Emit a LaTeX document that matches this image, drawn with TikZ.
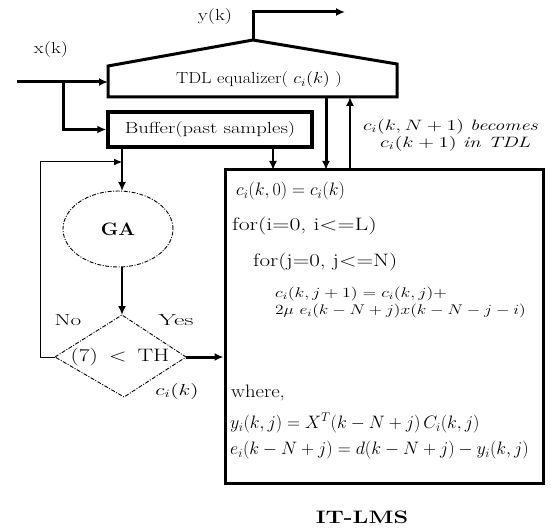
\RequirePackage{fix-cm}
\documentclass[tikz,border=0pt]{standalone}
\usepackage{fontspec}
\usepackage{graphicx}
\usetikzlibrary{arrows.meta,shapes.geometric,calc}
\newcommand{\hstr}[2]{\scalebox{#1}[1]{#2}}
\begin{document}
\begin{tikzpicture}[x=1pt,y=-1pt,
  thickline/.style={line width=3pt},
  medline/.style={line width=1.6pt},
  thinline/.style={line width=1pt},
  tip/.style={-{Latex[length=9pt,width=8pt]}},
  dashdot/.style={line width=0.9pt,dash pattern=on 4pt off 1.5pt on 1pt off 1.5pt},
  txt/.style={inner sep=0pt,font=\fontsize{16}{19}\selectfont},
  lmstxt/.style={inner sep=0pt,anchor=west,font=\fontsize{18}{21}\selectfont},
  lmssmall/.style={inner sep=0pt,anchor=west,font=\fontsize{14}{16}\selectfont},
]
\useasboundingbox (0,0) rectangle (551,529);
% TDL equalizer
\coordinate (tbl) at (108,97);
\coordinate (ttl) at (108,66);
\coordinate (peak) at (253,40);
\coordinate (ttr) at (397,64);
\coordinate (tbr) at (397,97);
\draw[thickline,line join=miter] (tbl) -- (ttl) -- (peak) -- (ttr) -- (tbr) -- cycle;
\node[txt] (tdltext) at (259,80) {\hstr{1.14}{TDL equalizer( $c_i(k)$ )}};
% buffer
\node[draw,line width=3.5pt,minimum width=204,minimum height=35,inner sep=0pt,
  font=\fontsize{16}{19}\selectfont] (buf) at (210,129.5) {\hstr{1.29}{Buffer(past samples)}};
% LMS box
\node[draw,line width=3pt,minimum width=318,minimum height=313,inner sep=0pt] (lms) at (384,326.5) {};
% GA
\node[ellipse,draw,dashdot,minimum width=110,minimum height=76,inner sep=0pt,
  font=\bfseries\fontsize{18}{20}\selectfont] (ga) at (118,229) {\hstr{1.1}{GA}};
% diamond
\coordinate (dl) at (55,357);
\coordinate (dt) at (122,315);
\coordinate (dr) at (186,357);
\coordinate (db) at (124,397);
\draw[dashdot] (dl) -- (dt) -- (dr) -- (db) -- cycle;
\node[inner sep=0pt,font=\fontsize{18}{20}\selectfont] (cond) at (120,357) {\hstr{1.3}{(7) \,$<$\, TH}};
% labels
\node[txt] (xk) at (51,50) {\hstr{1.27}{x(k)}};
\node[txt] (yk) at (215,17) {\hstr{1.27}{y(k)}};
\node[txt] (no) at (68,320) {\hstr{1.45}{No}};
\node[txt] (yes) at (176,320) {\hstr{1.6}{Yes}};
\node[txt] (ck) at (177,391) {\hstr{1.35}{$c_i(k)$}};
\node[inner sep=0pt,anchor=west,font=\fontsize{15}{18}\selectfont] (becomes) at (363,127) {\hstr{1.34}{$c_i(k,N+1)$ \textit{becomes}}};
\node[inner sep=0pt,anchor=west,font=\fontsize{15}{18}\selectfont] (intdl) at (380,144) {\hstr{1.38}{$c_i(k+1)$ \textit{in TDL}}};
\node[inner sep=0pt,font=\bfseries\fontsize{18}{20}\selectfont] (itlms) at (362,517) {\hstr{1.3}{IT-LMS}};
% LMS texts
\node[lmstxt] (l1) at (236,191) {$c_i(k,0) = c_i(k)$};
\node[lmstxt] (l2) at (232,226) {\hstr{1.32}{for(i=0, i$<$=L)}};
\node[lmstxt] (l3) at (253,262) {\hstr{1.28}{for(j=0, j$<$=N)}};
\node[lmssmall] (l4) at (275,294) {\hstr{1.28}{$c_i(k,j+1) = c_i(k,j) +$}};
\node[lmssmall] (l5) at (275,311) {\hstr{1.24}{$2\mu\ e_i(k-N+j)x(k-N-j-i)$}};
\node[lmstxt] (l6) at (231,393) {\hstr{1.15}{where,}};
\node[lmstxt] (l7) at (230,423) {$y_i(k,j) = X^T(k-N+j)\,C_i(k,j)$};
\node[lmstxt] (l8) at (230,450) {$e_i(k-N+j) = d(k-N+j) - y_i(k,j)$};
% connectors
\coordinate (xin) at (17,82);
\coordinate (tdlin) at (108,82);
\coordinate (br) at (63,82);
\draw[thickline,tip] (xin) -- (tdlin);
\draw[thickline,tip] (br) |- (buf.west);
\coordinate (yout) at (345,12);
\draw[thickline,tip] (peak) |- (yout);
\coordinate (bufga) at (122,147);
\coordinate (gatop) at (122,191);
\draw[medline,tip] (bufga) -- (gatop);
\coordinate (gabot) at (122,267);
\draw[medline,tip] (gabot) -- (dt);
\coordinate (loopin) at (122,162);
\draw[thinline,-{Latex[length=8pt,width=7pt]}] (dl) -| (40,162) -- (loopin);
\coordinate (b2) at (273,147);
\coordinate (lmsin1) at (273,170);
\draw[medline,tip] (b2) -- (lmsin1);
\coordinate (tdlout) at (326,97);
\coordinate (lmsin2) at (326,170);
\draw[thickline,tip] (tdlout) -- (lmsin2);
\coordinate (lmsout) at (350,170);
\coordinate (tdlin2) at (350,97);
\draw[medline,tip] (lmsout) -- (tdlin2);
\draw[thickline,tip] (dr) -- (lms.west |- dr);
\end{tikzpicture}
\end{document}
